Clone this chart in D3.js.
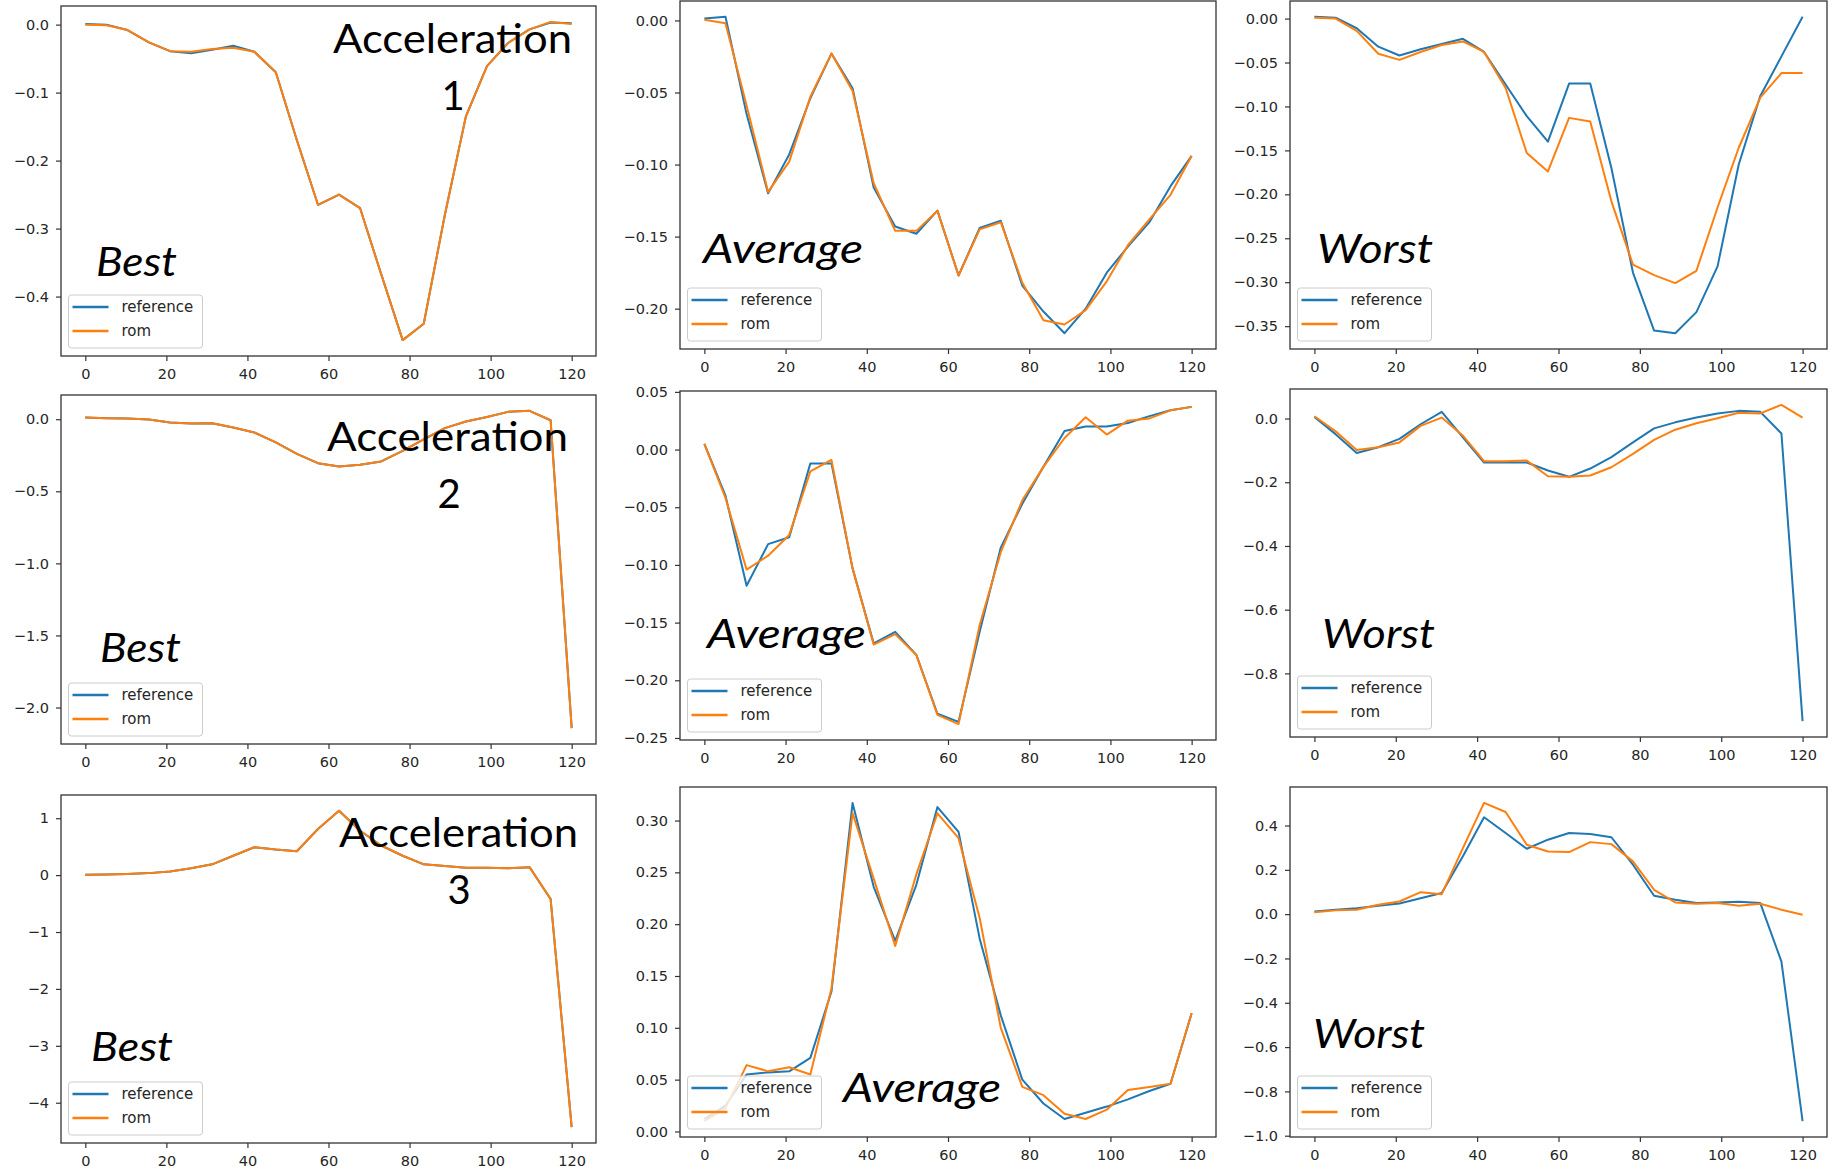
<!DOCTYPE html>
<html>
<head>
<meta charset="utf-8">
<script src="https://cdn.jsdelivr.net/npm/d3@7"></script>
<style>
  body { margin: 0; background: #fff; }
  svg { display: block; }
</style>
</head>
<body>
<script>

// time steps shared by every panel
const steps = [0, 5.2, 10.4, 15.7, 20.9, 26.1, 31.3, 36.5, 41.7, 47.0, 52.2, 57.4,
    62.6, 67.8, 73.0, 78.3, 83.5, 88.7, 93.9, 99.1, 104.3, 109.6, 114.8, 120];
const xTicks = [0, 20, 40, 60, 80, 100, 120];

// acceleration 1
const acc1BestRef = [0.001, 0.0, -0.008, -0.026, -0.039, -0.042, -0.037, -0.031, -0.040, -0.070, -0.17, -0.265,
    -0.25, -0.27, -0.367, -0.464, -0.44, -0.28, -0.135, -0.061, -0.027, -0.007, 0.003, 0.002];
const acc1BestRom = [0.0, -0.001, -0.008, -0.026, -0.039, -0.040, -0.036, -0.034, -0.040, -0.070, -0.17, -0.265,
    -0.25, -0.27, -0.367, -0.464, -0.44, -0.28, -0.135, -0.061, -0.027, -0.007, 0.004, 0.001];
const acc1AvgRef = [0.0014, 0.0025, -0.065, -0.120, -0.093, -0.054, -0.023, -0.047, -0.116, -0.143, -0.148, -0.132,
    -0.177, -0.144, -0.139, -0.184, -0.202, -0.217, -0.200, -0.175, -0.157, -0.140, -0.115, -0.094];
const acc1AvgRom = [0.0005, -0.002, -0.059, -0.119, -0.098, -0.053, -0.023, -0.049, -0.113, -0.146, -0.146, -0.132,
    -0.177, -0.145, -0.140, -0.182, -0.208, -0.211, -0.201, -0.181, -0.156, -0.138, -0.121, -0.094];
const acc1WorstRef = [0.002, 0.001, -0.011, -0.032, -0.042, -0.035, -0.029, -0.023, -0.038, -0.075, -0.111, -0.140,
    -0.074, -0.074, -0.170, -0.289, -0.355, -0.358, -0.334, -0.282, -0.166, -0.088, -0.043, 0.002];
const acc1WorstRom = [0.001, 0.0, -0.014, -0.040, -0.047, -0.038, -0.030, -0.026, -0.038, -0.079, -0.153, -0.174,
    -0.113, -0.117, -0.208, -0.280, -0.292, -0.301, -0.287, -0.215, -0.147, -0.090, -0.062, -0.062];

// acceleration 2
const acc2BestRef = [0.012, 0.007, 0.005, -0.002, -0.023, -0.030, -0.028, -0.058, -0.092, -0.16, -0.24, -0.305,
    -0.328, -0.316, -0.293, -0.22, -0.139, -0.062, -0.016, 0.016, 0.051, 0.058, -0.007, -2.143];
const acc2BestRom = [0.012, 0.007, 0.005, -0.002, -0.023, -0.030, -0.028, -0.058, -0.092, -0.16, -0.24, -0.305,
    -0.328, -0.316, -0.293, -0.22, -0.139, -0.062, -0.016, 0.016, 0.051, 0.058, -0.007, -2.143];
const acc2AvgRef = [0.005, -0.040, -0.118, -0.082, -0.076, -0.012, -0.012, -0.103, -0.168, -0.158, -0.178, -0.229,
    -0.236, -0.158, -0.085, -0.047, -0.015, 0.016, 0.020, 0.020, 0.023, 0.029, 0.034, 0.037];
const acc2AvgRom = [0.005, -0.042, -0.104, -0.092, -0.074, -0.019, -0.009, -0.103, -0.169, -0.160, -0.178, -0.230,
    -0.238, -0.152, -0.089, -0.044, -0.015, 0.010, 0.028, 0.013, 0.025, 0.027, 0.034, 0.037];
const acc2WorstRef = [0.005, -0.049, -0.108, -0.090, -0.064, -0.018, 0.021, -0.059, -0.138, -0.138, -0.138, -0.163,
    -0.183, -0.157, -0.121, -0.075, -0.031, -0.012, 0.003, 0.016, 0.024, 0.021, -0.047, -0.950];
const acc2WorstRom = [0.007, -0.040, -0.099, -0.090, -0.075, -0.023, 0.003, -0.054, -0.134, -0.134, -0.132, -0.181,
    -0.183, -0.179, -0.153, -0.111, -0.067, -0.035, -0.015, 0.001, 0.018, 0.016, 0.043, 0.003];

// acceleration 3
const acc3BestRef = [0.005, 0.01, 0.02, 0.035, 0.065, 0.12, 0.19, 0.34, 0.49, 0.45, 0.42, 0.81,
    1.13, 0.78, 0.52, 0.34, 0.19, 0.16, 0.13, 0.13, 0.12, 0.14, -0.42, -4.43];
const acc3BestRom = [0.005, 0.01, 0.02, 0.035, 0.065, 0.12, 0.19, 0.34, 0.49, 0.45, 0.42, 0.81,
    1.13, 0.78, 0.52, 0.34, 0.19, 0.16, 0.13, 0.13, 0.12, 0.14, -0.42, -4.43];
const acc3AvgRef = [0.012, 0.025, 0.055, 0.057, 0.058, 0.071, 0.135, 0.317, 0.236, 0.184, 0.238, 0.313,
    0.289, 0.186, 0.112, 0.050, 0.027, 0.012, 0.018, 0.024, 0.031, 0.039, 0.046, 0.114];
const acc3AvgRom = [0.010, 0.0225, 0.064, 0.058, 0.062, 0.055, 0.138, 0.307, 0.244, 0.179, 0.248, 0.307,
    0.283, 0.206, 0.100, 0.043, 0.035, 0.017, 0.012, 0.021, 0.040, 0.043, 0.046, 0.114];
const acc3WorstRef = [0.012, 0.020, 0.027, 0.038, 0.048, 0.072, 0.095, 0.261, 0.437, 0.366, 0.295, 0.336,
    0.366, 0.362, 0.347, 0.223, 0.083, 0.065, 0.050, 0.053, 0.056, 0.050, -0.214, -0.934];
const acc3WorstRom = [0.009, 0.017, 0.020, 0.042, 0.057, 0.099, 0.090, 0.298, 0.502, 0.461, 0.313, 0.283,
    0.280, 0.325, 0.316, 0.238, 0.110, 0.053, 0.047, 0.050, 0.038, 0.047, 0.020, -0.003];

// y tick values per panel
const ticksA1Best = [0, -0.1, -0.2, -0.3, -0.4];
const ticksA1Avg = [0, -0.05, -0.10, -0.15, -0.20];
const ticksA1Worst = [0, -0.05, -0.10, -0.15, -0.20, -0.25, -0.30, -0.35];
const ticksA2Best = [0, -0.5, -1.0, -1.5, -2.0];
const ticksA2Avg = [0.05, 0, -0.05, -0.10, -0.15, -0.20, -0.25];
const ticksA2Worst = [0, -0.2, -0.4, -0.6, -0.8];
const ticksA3Best = [1, 0, -1, -2, -3, -4];
const ticksA3Avg = [0, 0.05, 0.10, 0.15, 0.20, 0.25, 0.30];
const ticksA3Worst = [0.4, 0.2, 0, -0.2, -0.4, -0.6, -0.8, -1.0];

const seriesNames = ["reference", "rom"];
const colors = ["#1f77b4", "#ff7f0e"];

let svg = d3.select("body").append("svg")
    .attr("width", 1839)
    .attr("height", 1171);

// frame of each small chart: [left, top, right, bottom]
const cols = [[61, 596], [680, 1216], [1290, 1827]];
const rowsY = [
    [[6, 356], [1, 349], [1, 349]],
    [[395, 744], [391, 740], [389, 737]],
    [[795, 1143], [787, 1137], [787, 1137]]
];

const panels = [
    { ref: acc1BestRef, rom: acc1BestRom, ticks: ticksA1Best, fmt: ".1f" },
    { ref: acc1AvgRef, rom: acc1AvgRom, ticks: ticksA1Avg, fmt: ".2f" },
    { ref: acc1WorstRef, rom: acc1WorstRom, ticks: ticksA1Worst, fmt: ".2f" },
    { ref: acc2BestRef, rom: acc2BestRom, ticks: ticksA2Best, fmt: ".1f" },
    { ref: acc2AvgRef, rom: acc2AvgRom, ticks: ticksA2Avg, fmt: ".2f" },
    { ref: acc2WorstRef, rom: acc2WorstRom, ticks: ticksA2Worst, fmt: ".1f" },
    { ref: acc3BestRef, rom: acc3BestRom, ticks: ticksA3Best, fmt: "d" },
    { ref: acc3AvgRef, rom: acc3AvgRom, ticks: ticksA3Avg, fmt: ".2f" },
    { ref: acc3WorstRef, rom: acc3WorstRom, ticks: ticksA3Worst, fmt: ".1f" }
];

panels.forEach(function (p, k) {
    let r = Math.floor(k / 3), c = k % 3;
    let left = cols[c][0], right = cols[c][1];
    let top = rowsY[r][c][0], bottom = rowsY[r][c][1];

    // matplotlib style autoscale: 5% margin
    let all = p.ref.concat(p.rom);
    let lo = d3.min(all), hi = d3.max(all), pad = (hi - lo) * 0.05;
    let xPad = (d3.max(steps) - d3.min(steps)) * 0.05;

    let x = d3.scaleLinear().domain([d3.min(steps) - xPad, d3.max(steps) + xPad]).range([left, right]);
    let y = d3.scaleLinear().domain([lo - pad, hi + pad]).range([bottom, top]);

    let g = svg.append("g");

    let line = d3.line()
        .x(function (d, i) { return x(steps[i]); })
        .y(function (d) { return y(d); });

    [p.ref, p.rom].forEach(function (s, j) {
        g.append("path")
            .attr("d", line(s))
            .attr("fill", "none")
            .attr("stroke", colors[j])
            .attr("stroke-width", 2)
            .attr("stroke-linejoin", "round");
    });

    // axes
    let xAxis = g.append("g")
        .attr("transform", "translate(0," + bottom + ")")
        .call(d3.axisBottom(x).tickValues(xTicks).tickSize(5).tickPadding(8).tickFormat(d3.format("d")));
    let yAxis = g.append("g")
        .attr("transform", "translate(" + left + ",0)")
        .call(d3.axisLeft(y).tickValues(p.ticks).tickSize(5).tickPadding(7).tickFormat(d3.format(p.fmt)));

    [xAxis, yAxis].forEach(function (a) {
        a.select(".domain").remove();
        a.selectAll("line").attr("stroke", "#333").attr("stroke-width", 1.2);
        a.selectAll("text")
            .attr("fill", "#262626")
            .attr("font-family", "DejaVu Sans, sans-serif")
            .attr("font-size", 14.5);
    });

    g.append("rect")
        .attr("x", left).attr("y", top)
        .attr("width", right - left).attr("height", bottom - top)
        .attr("fill", "none")
        .attr("stroke", "#333")
        .attr("stroke-width", 1.3);

    // legend, lower left
    let lg = g.append("g").attr("transform", "translate(" + (left + 7.5) + "," + (bottom - 61) + ")");
    lg.append("rect")
        .attr("width", 134).attr("height", 53).attr("rx", 3)
        .attr("fill", "#fff").attr("fill-opacity", 0.8)
        .attr("stroke", "#cccccc").attr("stroke-width", 1);
    seriesNames.forEach(function (name, j) {
        let yy = 12 + j * 24;
        lg.append("line")
            .attr("x1", 4).attr("x2", 40).attr("y1", yy).attr("y2", yy)
            .attr("stroke", colors[j]).attr("stroke-width", 2.4);
        lg.append("text")
            .attr("x", 53).attr("y", yy)
            .attr("dy", "0.35em")
            .attr("fill", "#262626")
            .attr("font-family", "DejaVu Sans, sans-serif")
            .attr("font-size", 15)
            .text(name);
    });
});

// slide overlay labels
const titles = [
    { text: "Acceleration", x: 333, y: 53, w: 239 },
    { text: "1", x: 453, y: 110 },
    { text: "Acceleration", x: 327, y: 451, w: 241 },
    { text: "2", x: 449, y: 508 },
    { text: "Acceleration", x: 339, y: 847, w: 239 },
    { text: "3", x: 459, y: 904 }
];
const tags = [
    { text: "Best", x: 96, y: 276, w: 81 },
    { text: "Average", x: 703, y: 263, w: 160 },
    { text: "Worst", x: 1317, y: 263, w: 116 },
    { text: "Best", x: 100, y: 662, w: 81 },
    { text: "Average", x: 707, y: 648, w: 159 },
    { text: "Worst", x: 1322, y: 648, w: 113 },
    { text: "Best", x: 91, y: 1061, w: 82 },
    { text: "Average", x: 843, y: 1102, w: 158 },
    { text: "Worst", x: 1313, y: 1048, w: 112 }
];

svg.append("g").selectAll("text")
    .data(titles)
    .enter().append("text")
    .attr("x", function (d) { return d.w ? d.x : d.x; })
    .attr("y", function (d) { return d.y; })
    .attr("text-anchor", function (d) { return d.w ? "start" : "middle"; })
    .attr("textLength", function (d) { return d.w ? d.w : null; })
    .attr("lengthAdjust", "spacingAndGlyphs")
    .attr("font-family", "Lato, sans-serif")
    .attr("font-size", 40)
    .attr("fill", "#000")
    .text(function (d) { return d.text; });

svg.append("g").selectAll("text")
    .data(tags)
    .enter().append("text")
    .attr("x", function (d) { return d.x; })
    .attr("y", function (d) { return d.y; })
    .attr("textLength", function (d) { return d.w; })
    .attr("lengthAdjust", "spacingAndGlyphs")
    .attr("font-family", "Lato, sans-serif")
    .attr("font-style", "italic")
    .attr("font-size", 40)
    .attr("fill", "#000")
    .text(function (d) { return d.text; });

</script>
</body>
</html>
